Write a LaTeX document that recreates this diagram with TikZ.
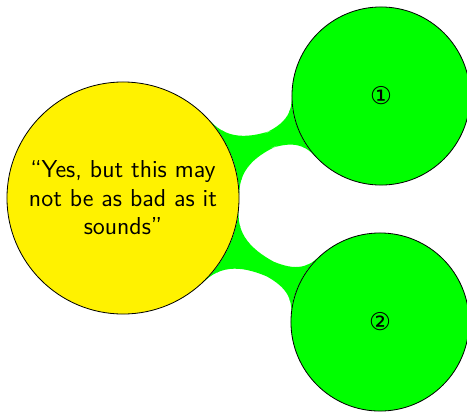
\documentclass[tikz,border=0pt]{standalone}
\usepackage{fontspec}
\newfontfamily\symfont{DejaVu Sans}
\usetikzlibrary{mindmap,backgrounds}
\begin{document}
\begin{tikzpicture}[x=0.4905pt,y=-0.4905pt,
  bubble/.style={circle,draw=black,line width=0.4pt,inner sep=0pt,align=center},
  rootbubble/.style={bubble,fill=yellow,minimum size=4cm,font=\sffamily\large},
  leafbubble/.style={bubble,fill=green,minimum size=3.07cm,font=\symfont\large}]
  \useasboundingbox (0,0) rectangle (467,411);
  % concepts
  \node[rootbubble] (root) at (123,198) {``Yes, but this may\\not be as bad as it\\sounds''};
  \node[leafbubble] (one) at (381,96) {①};
  \node[leafbubble] (two) at (380,322) {②};
  % connection bars behind the concepts
  \begin{scope}[on background layer]
    \path (root) to[circle connection bar switch color=from (green) to (green)] (one);
    \path (root) to[circle connection bar switch color=from (green) to (green)] (two);
  \end{scope}
\end{tikzpicture}
\end{document}
